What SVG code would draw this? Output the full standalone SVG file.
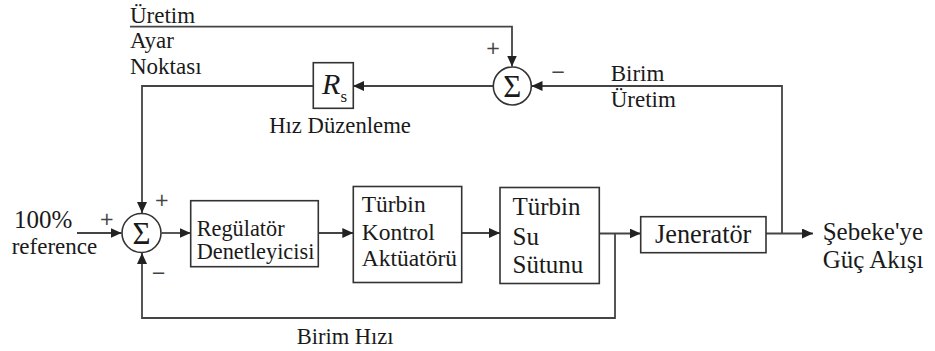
<svg xmlns="http://www.w3.org/2000/svg" width="935" height="351" viewBox="0 0 935 351">
<style>
text{font-family:"Liberation Serif","DejaVu Serif",serif}
.t{fill:#1a1a1a}
.box{fill:#fff;stroke:#333;stroke-width:1.6}
.ln{fill:none;stroke:#444;stroke-width:1.8}
.sig{font-size:31px;fill:#1a1a1a;text-anchor:middle}
.pm{font-family:"DejaVu Sans",sans-serif;font-size:18px;fill:#444;text-anchor:middle}
</style>
<defs>
<marker id="arr" markerWidth="12" markerHeight="10" refX="11" refY="5" orient="auto" markerUnits="userSpaceOnUse">
<path d="M0,0 L11,5 L0,10 Z" fill="#222"/>
</marker>
</defs>
<rect width="935" height="351" fill="#fff"/>

<g id="connectors">
<path class="ln" d="M130,26.7 H512 V66.5" marker-end="url(#arr)"/>
<path class="ln" d="M782,233.5 V86 H531.5" marker-end="url(#arr)"/>
<path class="ln" d="M493,86 H353" marker-end="url(#arr)"/>
<path class="ln" d="M313,86 H142 V213" marker-end="url(#arr)"/>
<path class="ln" d="M77,233 H121.5" marker-end="url(#arr)"/>
<path class="ln" d="M161.5,233 H190.7" marker-end="url(#arr)"/>
<path class="ln" d="M318.3,233 H353.3" marker-end="url(#arr)"/>
<path class="ln" d="M461.7,233 H500" marker-end="url(#arr)"/>
<path class="ln" d="M599.3,233.5 H640.7" marker-end="url(#arr)"/>
<path class="ln" d="M615,233.5 V318 H142 V253" marker-end="url(#arr)"/>
<path class="ln" d="M766,233.5 H813" marker-end="url(#arr)"/>
</g>

<g id="labels">
<text class="t" x="130" y="22.5" font-size="23">Üretim</text>
<text class="t" x="130" y="48" font-size="23">Ayar</text>
<text class="t" x="130" y="74" font-size="23">Noktası</text>
<text class="t" x="610.7" y="81" font-size="23">Birim</text>
<text class="t" x="610.7" y="107" font-size="23">Üretim</text>
<text class="t" x="14" y="228" font-size="25">100%</text>
<text class="t" x="11.7" y="254" font-size="23">reference</text>
<text class="t" x="296.7" y="344" font-size="22.5">Birim Hızı</text>
<text class="t" x="822.7" y="240" font-size="25">Şebeke'ye</text>
<text class="t" x="822.7" y="268" font-size="25">Güç Akışı</text>
</g>

<g id="sum-main">
<circle cx="141.5" cy="233" r="19.5" class="box"/>
<text class="sig" x="141.5" y="244">Σ</text>
<text class="pm" x="106.7" y="224.5">+</text>
<text class="pm" x="161.7" y="205.5">+</text>
<text class="pm" x="158.5" y="279">−</text>
</g>

<g id="sum-top">
<circle cx="512.3" cy="86" r="19" class="box"/>
<text class="sig" x="512.3" y="97">Σ</text>
<text class="pm" x="493" y="54">+</text>
<text class="pm" x="558" y="78">−</text>
</g>

<g id="rs">
<rect class="box" x="313.3" y="62.7" width="40" height="45.6"/>
<text class="t" x="322" y="94" font-size="30" font-style="italic">R</text>
<text class="t" x="340.5" y="101.5" font-size="17">s</text>
<text class="t" x="340" y="133" font-size="22.7" text-anchor="middle">Hız Düzenleme</text>
</g>

<g id="regulator">
<rect class="box" x="190.7" y="200.7" width="127.6" height="66"/>
<text class="t" x="196.7" y="236" font-size="22.3">Regülatör</text>
<text class="t" x="196.7" y="259" font-size="22.3">Denetleyicisi</text>
</g>

<g id="actuator">
<rect class="box" x="353.3" y="186.5" width="108.4" height="96"/>
<text class="t" x="361.7" y="212" font-size="23.5">Türbin</text>
<text class="t" x="361.7" y="239.5" font-size="23.5">Kontrol</text>
<text class="t" x="361.7" y="266" font-size="23.5">Aktüatörü</text>
</g>

<g id="water">
<rect class="box" x="500" y="187.5" width="99.3" height="96"/>
<text class="t" x="512.5" y="215" font-size="25">Türbin</text>
<text class="t" x="512.5" y="245" font-size="25">Su</text>
<text class="t" x="512.5" y="273" font-size="25">Sütunu</text>
</g>

<g id="generator">
<rect class="box" x="640.7" y="216.7" width="125.3" height="36"/>
<text class="t" x="655" y="242.7" font-size="26.3">Jeneratör</text>
</g>
</svg>
